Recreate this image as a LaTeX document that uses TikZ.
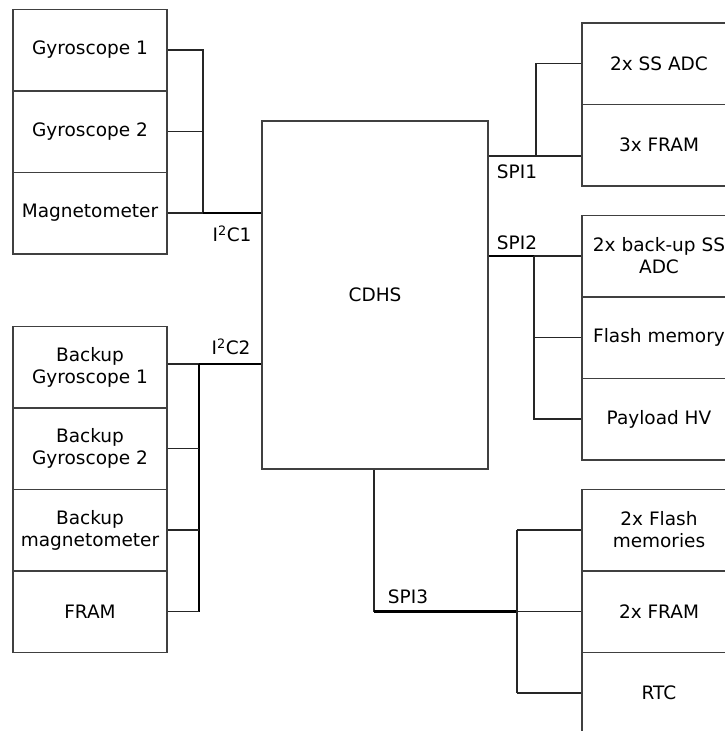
\documentclass[tikz,border=0pt]{standalone}
\usepackage{fontspec}
\setmainfont{DejaVu Sans}
\begin{document}
\begin{tikzpicture}[x=1pt,y=-1pt,
  blk/.style={draw=black!75,line width=1.5pt,minimum width=154pt,minimum height=81.5pt,inner sep=0pt,align=center,font=\fontsize{18.5}{22}\selectfont},
  lbl/.style={inner sep=0pt,font=\fontsize{18.5}{22}\selectfont},
  wire/.style={draw=black!85,line width=1.5pt},
  bus/.style={draw=black,line width=2.6pt}]
\useasboundingbox (0,0) rectangle (725,731);
\clip (0,0) rectangle (725,731);
% left top group
\node[blk] (g1) at (90,50) {Gyroscope 1};
\node[blk] (g2) at (90,131.5) {Gyroscope 2};
\node[blk] (mag) at (90,213) {Magnetometer};
% left bottom group
\node[blk] (bg1) at (90,367) {Backup\\Gyroscope 1};
\node[blk] (bg2) at (90,448.5) {Backup\\Gyroscope 2};
\node[blk] (bmag) at (90,530) {Backup\\magnetometer};
\node[blk] (fram) at (90,611.5) {FRAM};
% CDHS
\node[blk,minimum width=226pt,minimum height=348pt] (cdhs) at (375,295) {CDHS};
% right groups
\node[blk] (ssadc) at (659,63.5) {2x SS ADC};
\node[blk] (fram3) at (659,145) {3x FRAM};
\node[blk] (bssadc) at (659,256) {2x back-up SS\\ADC};
\node[blk] (flash) at (659,337.5) {Flash memory};
\node[blk] (phv) at (659,419) {Payload HV};
\node[blk] (flash2) at (659,530) {2x Flash\\memories};
\node[blk] (fram2) at (659,611.5) {2x FRAM};
\node[blk] (rtc) at (659,693) {RTC};
% junction coordinates
\coordinate (j1) at (203,213);
\coordinate (j2) at (199,364);
\coordinate (s1) at (536,156);
\coordinate (s2) at (534,256);
\coordinate (s3b) at (374,611.5);
\coordinate (s3) at (517,611.5);
% I2C1
\draw[wire] (g1.east) -| (j1);
\draw[wire] (g2.east) -- (g2.east -| j1);
\draw[wire] (mag.east) -- (j1);
\draw[bus] (j1) -- (j1 -| cdhs.west);
% I2C2
\draw[wire] (bg1.east |- j2) -- (j2);
\draw[bus] (j2) -- (j2 -| cdhs.west);
\draw[bus] (j2) -- (j2 |- fram.east);
\draw[wire] (bg2.east) -- (bg2.east -| j2);
\draw[wire] (bmag.east) -- (bmag.east -| j2);
\draw[wire] (fram.east) -- (fram.east -| j2);
% SPI1
\draw[wire] (s1 -| cdhs.east) -- (s1 -| fram3.west);
\draw[wire] (s1) |- (ssadc.west);
% SPI2
\draw[bus] (s2 -| cdhs.east) -- (s2);
\draw[wire] (s2) -- (bssadc.west);
\draw[wire] (s2) |- (phv.west);
\draw[wire] (flash.west -| s2) -- (flash.west);
% SPI3
\draw[wire] (cdhs.south -| s3b) -- (s3b);
\draw[bus] (s3b) -- (s3);
\draw[wire] (s3) -- (fram2.west);
\draw[wire] (flash2.west -| s3) -- (rtc.west -| s3);
\draw[wire] (flash2.west -| s3) -- (flash2.west);
\draw[wire] (rtc.west -| s3) -- (rtc.west);
% labels
\node[lbl] (l1) at (232,234) {I\textsuperscript{2}C1};
\node[lbl] (l2) at (231,347) {I\textsuperscript{2}C2};
\node[lbl] (l3) at (517,172) {SPI1};
\node[lbl] (l4) at (517,243) {SPI2};
\node[lbl] (l5) at (408,597) {SPI3};
\end{tikzpicture}
\end{document}
